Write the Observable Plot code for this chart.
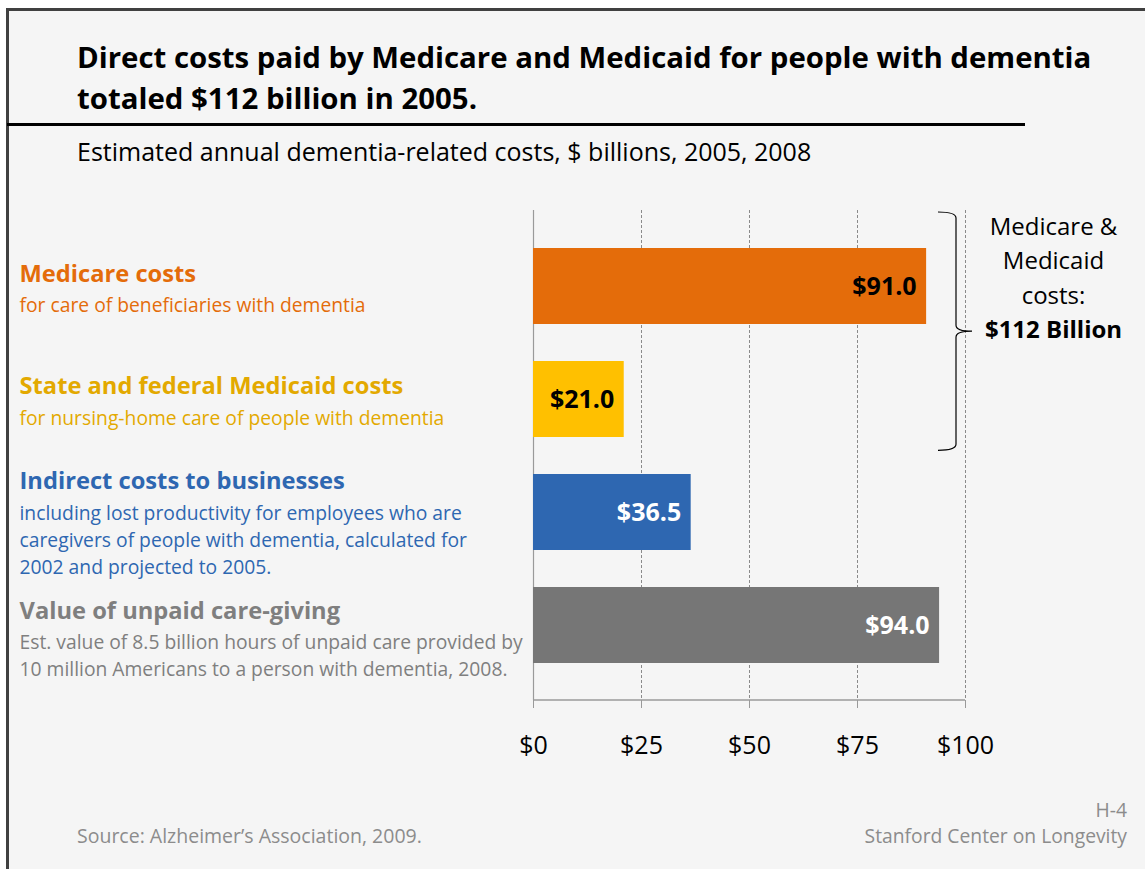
<!DOCTYPE html>
<html><head><meta charset="utf-8">
<script src="https://cdn.jsdelivr.net/npm/d3@7"></script>
<script src="https://cdn.jsdelivr.net/npm/@observablehq/plot@0.6"></script>
<style>
html,body{margin:0;padding:0;background:#fff;}
#page{position:relative;width:1145px;height:869px;overflow:hidden;font-family:"Open Sans",sans-serif;}
#slide{position:absolute;left:6px;top:8px;width:1139px;height:861px;background:#f5f5f5;border-left:3px solid #404040;border-top:3px solid #404040;box-sizing:border-box;}
.abs{position:absolute;white-space:nowrap;}
#title{left:77px;top:37px;font-size:29.4px;line-height:41px;font-weight:700;color:#000;}
#rule{left:7px;top:123px;width:1018px;height:3px;background:#000;}
#subtitle{left:77px;top:135px;font-size:25px;line-height:32px;color:#000;}
#chart{left:0;top:190px;}
#source{left:77px;top:822px;font-size:19.5px;line-height:28px;color:#8c8c8c;}
#pageno{right:18px;top:796px;font-size:19.3px;line-height:28px;color:#8c8c8c;text-align:right;}
#org{right:18px;top:822px;font-size:19.3px;line-height:28px;color:#8c8c8c;text-align:right;}
</style></head>
<body>
<div id="page">
  <div id="slide"></div>
  <div id="title" class="abs">Direct costs paid by Medicare and Medicaid for people with dementia<br>totaled $112 billion in 2005.</div>
  <div id="rule" class="abs"></div>
  <div id="subtitle" class="abs">Estimated annual dementia-related costs, $ billions, 2005, 2008</div>
  <div id="chart" class="abs"></div>
  <div id="source" class="abs">Source: Alzheimer’s Association, 2009.</div>
  <div id="pageno" class="abs">H-4</div>
  <div id="org" class="abs">Stanford Center on Longevity</div>
</div>
<script>
// ---- data ----
const categories = [
  "Medicare costs",
  "State and federal Medicaid costs",
  "Indirect costs to businesses",
  "Value of unpaid care-giving"
];
const descriptions = [
  "for care of beneficiaries with dementia",
  "for nursing-home care of people with dementia",
  "including lost productivity for employees who are\ncaregivers of people with dementia, calculated for\n2002 and projected to 2005.",
  "Est. value of 8.5 billion hours of unpaid care provided by\n10 million Americans to a person with dementia, 2008."
];
const values = [91.0, 21.0, 36.5, 94.0];
const barColors = ["#E46C0A", "#FFC000", "#2E67B1", "#767676"];
const categoryTextColors = ["#E46C0A", "#E3A900", "#2E67B1", "#7F7F7F"];
const valueTextColors = ["#000000", "#000000", "#ffffff", "#ffffff"];
const xTicks = [0, 25, 50, 75, 100];
const gridTicks = [25, 50, 75, 100];
const bracketLines = "Medicare &\nMedicaid\ncosts:";
const bracketTotal = "$112 Billion";

// ---- layout (not data) ----
const titleShift = [-12.5, -13, -31, -14.5];

const data = categories.map((c, i) => ({
  category: c, description: descriptions[i], value: values[i],
  textColor: categoryTextColors[i], valueColor: valueTextColors[i]
}));

const W = 1145, H = 600, mL = 533, mR = 180, mT = 20, mB = 90;
const FONT = "'Open Sans', sans-serif";
const fmt = d => "$" + d;

const labelMarks = [];
data.forEach((d, i) => {
  labelMarks.push(Plot.text([d], {
    y: "category", text: "category", frameAnchor: "left", dx: -(mL - 19),
    dy: titleShift[i], textAnchor: "start", lineAnchor: "middle",
    fontWeight: "bold", fontSize: 23.7, fill: d.textColor
  }));
  labelMarks.push(Plot.text([d], {
    y: "category", text: "description", frameAnchor: "left", dx: -(mL - 19),
    dy: titleShift[i] + 31 - 12, textAnchor: "start", lineAnchor: "top",
    lineHeight: 27 / 19.3, fontSize: 19.3, fill: d.textColor
  }));
});

const chart = Plot.plot({
  width: W, height: H,
  marginLeft: mL, marginRight: mR, marginTop: mT, marginBottom: mB,
  style: {background: "transparent", fontFamily: FONT, overflow: "visible"},
  x: {domain: [0, 100], ticks: xTicks, tickFormat: fmt, label: null},
  y: {domain: categories, padding: 0.33, axis: null},
  color: {domain: categories, range: barColors},
  marks: [
    Plot.ruleX(gridTicks, {stroke: "#8a8a8a", strokeDasharray: "3,2", strokeWidth: 1}),
    Plot.ruleX([0], {stroke: "#9a9a9a", strokeWidth: 1.2}),
    Plot.barX(data, {x: "value", y: "category", fill: "category"}),
    Plot.text(data.filter(d => d.valueColor === "#000000"), {x: "value", y: "category", text: d => "$" + d.value.toFixed(1), textAnchor: "end", dx: -10, fontWeight: "bold", fontSize: 25, fill: "#000"}),
    Plot.text(data.filter(d => d.valueColor !== "#000000"), {x: "value", y: "category", text: d => "$" + d.value.toFixed(1), textAnchor: "end", dx: -10, fontWeight: "bold", fontSize: 25, fill: "#fff"}),
    ...labelMarks,
    Plot.text([bracketLines], {x: () => 100, frameAnchor: "top", dx: 88, dy: 0, lineAnchor: "top", lineHeight: 34.5 / 24, fontSize: 24, fill: "#000", textAnchor: "middle"}),
    Plot.text([bracketTotal], {x: () => 100, frameAnchor: "top", dx: 88, dy: 120, lineAnchor: "middle", fontSize: 24, fontWeight: "bold", fill: "#000", textAnchor: "middle"}),
    Plot.axisX({ticks: xTicks, tickFormat: fmt, tickSize: 8, tickPadding: 28, fontSize: 25, fill: "#000", stroke: "#9a9a9a", label: null})
  ]
});
document.getElementById("chart").appendChild(chart);

// axis baseline and bracket positioned from the chart's scales
const sx = chart.scale("x"), sy = chart.scale("y");
const xs = d3.scaleLinear().domain(sx.domain).range(sx.range);
const svg = d3.select(chart);
const yBottom = H - mB;
svg.append("line").attr("x1", xs(0)).attr("x2", xs(100)).attr("y1", yBottom).attr("y2", yBottom)
  .attr("stroke", "#9a9a9a").attr("stroke-width", 1.5);
const yScale = d3.scaleBand().domain(sy.domain).range(sy.range).padding(0.33);
const y0 = mT + 2, y1 = yScale(categories[1]) + yScale.bandwidth() + 14, ym = (y0 + y1) / 2;
const xv = xs(100) - 9, xl = xs(100) - 27, xt = xs(100) + 7, r = 6;
svg.append("path").attr("fill", "none").attr("stroke", "#000").attr("stroke-width", 1.2)
  .attr("d", `M${xl},${y0} Q${xv},${y0} ${xv},${y0 + r} L${xv},${ym - r} Q${xv},${ym} ${xt},${ym} Q${xv},${ym} ${xv},${ym + r} L${xv},${y1 - r} Q${xv},${y1} ${xl},${y1}`);
</script>
</body></html>
